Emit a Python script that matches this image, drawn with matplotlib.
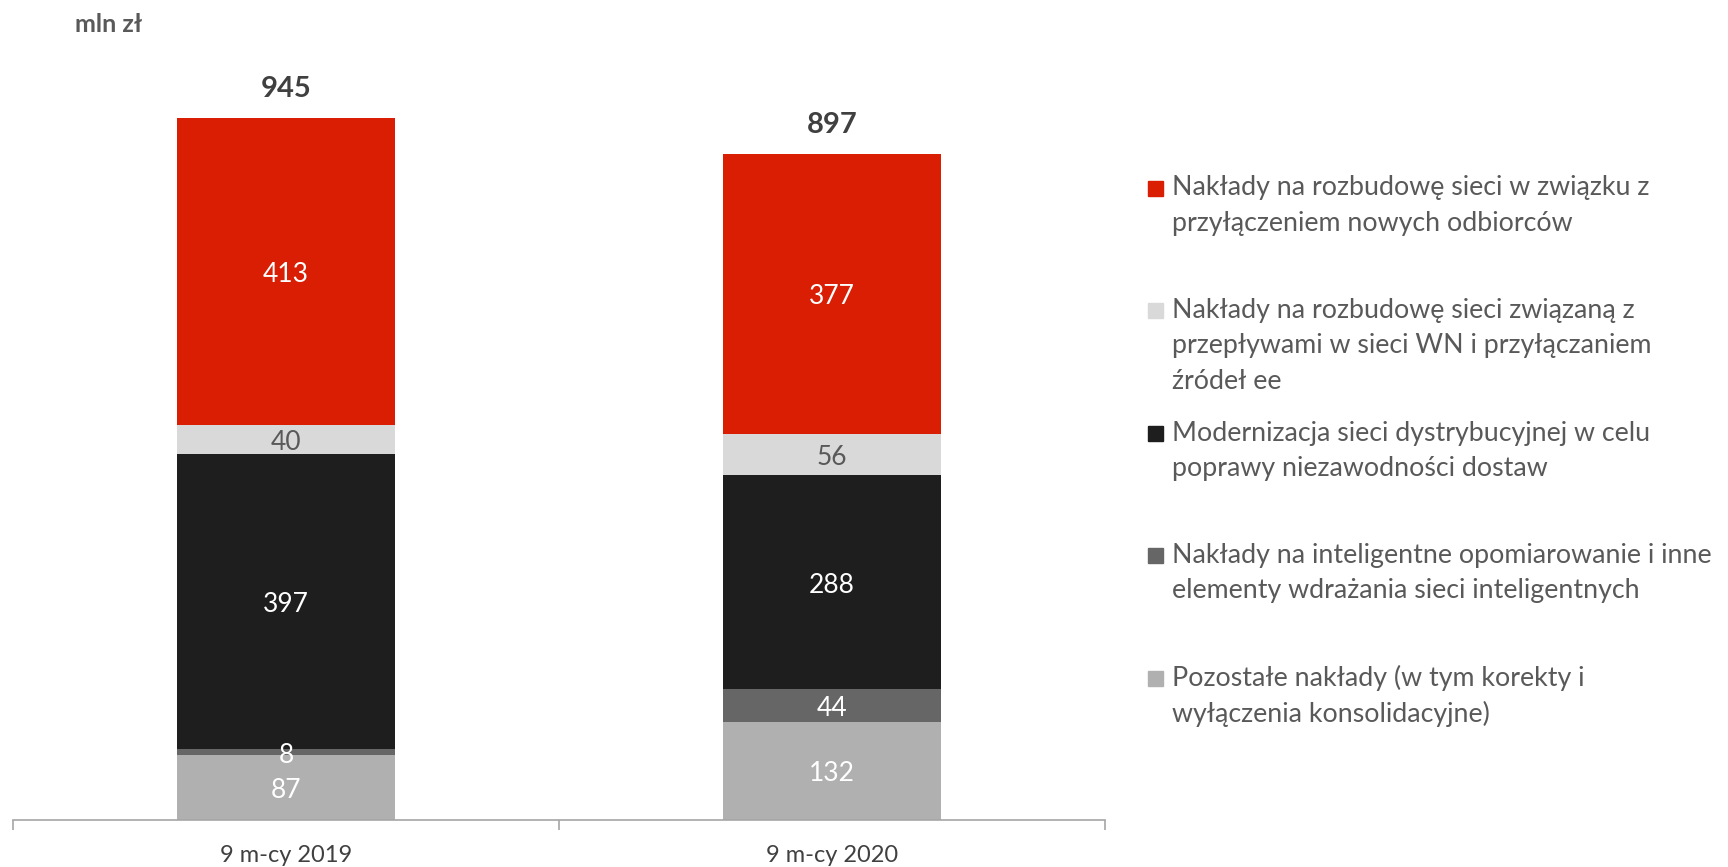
import matplotlib
matplotlib.use("Agg")
import matplotlib.pyplot as plt
from matplotlib.patches import Rectangle

plt.rcParams['font.family'] = ['Lato', 'DejaVu Sans']

# Data (mln zł)
categories = ["9 m-cy 2019", "9 m-cy 2020"]
series_names = [
    "Pozostałe nakłady (w tym korekty i\nwyłączenia konsolidacyjne)",
    "Nakłady na inteligentne opomiarowanie i inne\nelementy wdrażania sieci inteligentnych",
    "Modernizacja sieci dystrybucyjnej w celu\npoprawy niezawodności dostaw",
    "Nakłady na rozbudowę sieci związaną z\nprzepływami w sieci WN i przyłączaniem\nźródeł ee",
    "Nakłady na rozbudowę sieci w związku z\nprzyłączeniem nowych odbiorców",
]
values = [
    [87, 132],   # Pozostałe nakłady
    [8, 44],     # Inteligentne opomiarowanie
    [397, 288],  # Modernizacja
    [40, 56],    # Rozbudowa WN / źródła ee
    [413, 377],  # Rozbudowa - nowi odbiorcy
]
colors = ["#B0B0B0", "#666666", "#1E1E1E", "#D9D9D9", "#D91E04"]
label_colors = ["white", "white", "white", "#595959", "white"]

W, H = 1728, 867
fig = plt.figure(figsize=(W / 100, H / 100), dpi=100)
ax = fig.add_axes([13 / W, 47 / H, (1105 - 13) / W, (820 - 60) / H])

x = list(range(len(categories)))
bottoms = [0] * len(categories)
for vals, col, lcol in zip(values, colors, label_colors):
    ax.bar(x, vals, bottom=bottoms, width=0.4, color=col, edgecolor="none")
    for xi, v, b in zip(x, vals, bottoms):
        ax.annotate(f"{v}", (xi, b + v / 2), xytext=(0, -2),
                    textcoords="offset points", ha="center", va="center",
                    color=lcol, fontsize=19)
    bottoms = [b + v for b, v in zip(bottoms, vals)]

totals = bottoms
for xi, t in zip(x, totals):
    ax.annotate(f"{t}", (xi, t), xytext=(0, 20.5), textcoords="offset points",
                ha="center", va="center", fontsize=21, fontweight="bold",
                color="#404040")

ax.set_xlim(-0.5, len(categories) - 0.5)
ax.set_ylim(0, 1023)
ax.set_yticks([])
for s in ["top", "right", "left"]:
    ax.spines[s].set_visible(False)
ax.spines["bottom"].set_color("#A6A6A6")
ax.spines["bottom"].set_linewidth(1.2)
ax.set_xticks(x)
ax.set_xticklabels(categories, fontsize=17, color="#404040")
ax.tick_params(axis="x", which="major", length=0, pad=18)
ax.set_xticks([i - 0.5 for i in range(len(categories) + 1)], minor=True)
ax.tick_params(axis="x", which="minor", length=7, color="#A6A6A6", width=1.2)

fig.text(75 / W, 1 - 24 / H, "mln zł", fontsize=18, fontweight="bold",
         color="#595959", va="center", ha="left")

# Legend, top entry first; each line placed on its own
legend_top = [188, 310, 433, 555, 678]
line_step = 35.5
for name, col, ytop in zip(series_names[::-1], colors[::-1], legend_top):
    fig.patches.append(Rectangle((1148 / W, 1 - (ytop + 8) / H), 15 / W, 15 / H,
                                 transform=fig.transFigure, color=col))
    for i, line in enumerate(name.split("\n")):
        fig.text(1172 / W, 1 - (ytop + i * line_step) / H, line, fontsize=19.3,
                 color="#595959", va="center", ha="left")

fig.savefig("out.png", dpi=100)
